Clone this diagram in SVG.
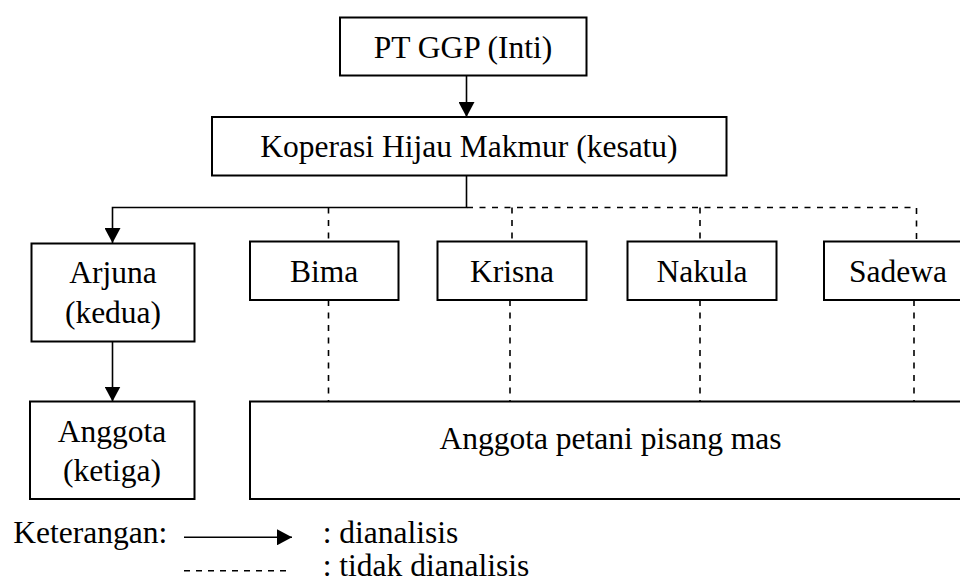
<svg xmlns="http://www.w3.org/2000/svg" width="960" height="581" viewBox="0 0 960 581">
<style>
  .box { fill: #fff; stroke: #000; stroke-width: 2; }
  .t { font-family: 'Liberation Serif', 'Times New Roman', Tinos, 'DejaVu Serif', serif; font-size: 31.5px; fill: #000; text-anchor: middle; }
  .tl { font-family: 'Liberation Serif', 'Times New Roman', Tinos, 'DejaVu Serif', serif; font-size: 31.5px; fill: #000; }
  .solid { fill: none; stroke: #000; stroke-width: 1.6; }
  .dash { fill: none; stroke: #000; stroke-width: 1.6; stroke-dasharray: 6 6.5; }
</style>
<defs>
  <marker id="arr" markerUnits="userSpaceOnUse" markerWidth="16" markerHeight="16" refX="15" refY="8" orient="auto">
    <path d="M0,0 L15,8 L0,16 Z" fill="#000"/>
  </marker>
</defs>
<rect width="960" height="581" fill="#fff"/>
<g id="connectors">
  <path class="solid" d="M466.5,75.5 V117" marker-end="url(#arr)"/>
  <path class="solid" d="M466.5,175.5 V207.5 H112.5 V243" marker-end="url(#arr)"/>
  <path class="dash" d="M467,207.5 H916.5 V241"/>
  <path class="dash" d="M512,207.5 V241"/>
  <path class="dash" d="M700,207.5 V241"/>
  <path class="dash" d="M328.5,207.5 V241"/>
  <path class="solid" d="M112.5,342 V401.5" marker-end="url(#arr)"/>
  <path class="dash" d="M328.5,300 V401"/>
  <path class="dash" d="M510,300 V401"/>
  <path class="dash" d="M700,300 V401"/>
  <path class="dash" d="M914,300 V401"/>
</g>
<g id="pt-ggp">
  <rect class="box" x="340" y="17.5" width="246.5" height="58"/>
  <text class="t" x="463" y="58.3" font-family="Liberation Serif, serif">PT GGP (Inti)</text>
</g>
<g id="koperasi">
  <rect class="box" x="212" y="117" width="514.5" height="58.5"/>
  <text class="t" x="469" y="157.3">Koperasi Hijau Makmur (kesatu)</text>
</g>
<g id="arjuna">
  <rect class="box" x="31.5" y="243.5" width="163" height="98"/>
  <text class="t" x="113" y="283.3">Arjuna</text>
  <text class="t" x="113" y="323">(kedua)</text>
</g>
<g id="anggota">
  <rect class="box" x="30" y="401.5" width="164.5" height="97.5"/>
  <text class="t" x="112" y="441.7">Anggota</text>
  <text class="t" x="112" y="480.7">(ketiga)</text>
</g>
<g id="bima">
  <rect class="box" x="250" y="241.5" width="148.5" height="58.5"/>
  <text class="t" x="324" y="281.7">Bima</text>
</g>
<g id="krisna">
  <rect class="box" x="437.5" y="241.5" width="149" height="58.5"/>
  <text class="t" x="512" y="281.7">Krisna</text>
</g>
<g id="nakula">
  <rect class="box" x="627.5" y="241.5" width="149" height="58.5"/>
  <text class="t" x="702" y="281.7">Nakula</text>
</g>
<g id="sadewa">
  <rect class="box" x="824" y="241.5" width="140" height="58.5"/>
  <text class="t" x="898" y="281.7">Sadewa</text>
</g>
<g id="anggota-petani">
  <rect class="box" x="250" y="401.5" width="714" height="97.5"/>
  <text class="t" x="610.5" y="449">Anggota petani pisang mas</text>
</g>
<g id="legend">
  <text class="tl" x="13.3" y="542.7">Keterangan:</text>
  <path class="solid" d="M184,537.3 H292" marker-end="url(#arr)"/>
  <path class="solid" d="M184,570.7 H292" stroke-dasharray="6 6"/>
  <text class="tl" x="322.7" y="542.7">: dianalisis</text>
  <text class="tl" x="322.7" y="576">: tidak dianalisis</text>
</g>
</svg>
